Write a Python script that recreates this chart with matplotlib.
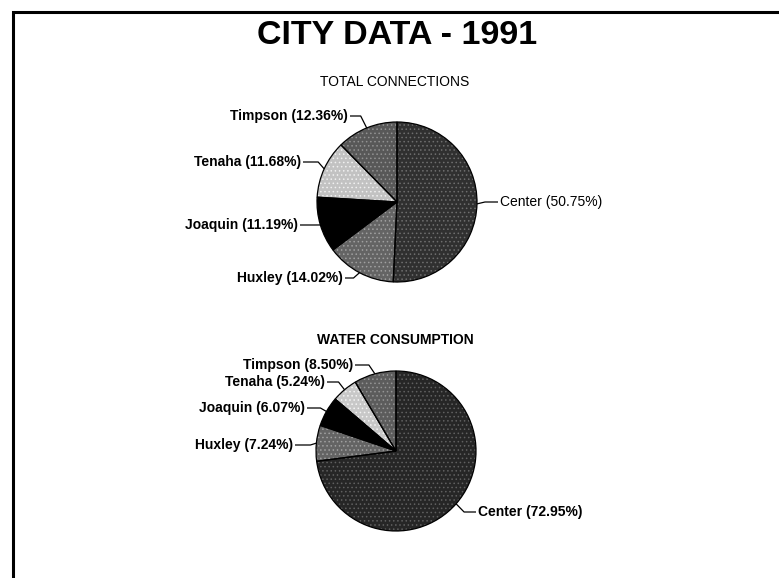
import numpy as np
import matplotlib
matplotlib.use("Agg")
import matplotlib.pyplot as plt

W, H = 779, 578

main_title = "CITY DATA - 1991"
cities = ["Center", "Huxley", "Joaquin", "Tenaha", "Timpson"]
conn_pct = [50.75, 14.02, 11.19, 11.68, 12.36]
water_pct = [72.95, 7.24, 6.07, 5.24, 8.50]
chart_titles = ["TOTAL CONNECTIONS", "WATER CONSUMPTION"]

plt.rcParams["font.family"] = ["Liberation Sans", "DejaVu Sans"]
plt.rcParams["hatch.linewidth"] = 0.6

fig = plt.figure(figsize=(W / 100, H / 100), dpi=100)
ax = fig.add_axes([0, 0, 1, 1])


def P(x, y):
    return x, H - y


charts = [
    dict(values=conn_pct, title=chart_titles[0], title_xy=(395, 82), title_weight="normal",
         center=(397, 202), r=80,
         colors=["#303030", "#646464", "#000000", "#c2c2c2", "#585858"],
         hatch_cols=["#6e6e6e", "#a0a0a0", "#000000", "#f0f0f0", "#929292"],
         label_xy=[(500, 202), (343, 278), (298, 225), (301, 162), (348, 116)],
         weights=["normal", "bold", "bold", "bold", "bold"]),
    dict(values=water_pct, title=chart_titles[1], title_xy=(395, 340), title_weight="bold",
         center=(396, 451), r=80,
         colors=["#262626", "#646464", "#000000", "#c8c8c8", "#5c5c5c"],
         hatch_cols=["#606060", "#a0a0a0", "#000000", "#f4f4f4", "#949494"],
         label_xy=[(478, 512), (293, 445), (305, 408), (325, 382), (353, 365)],
         weights=["bold", "bold", "bold", "bold", "bold"]),
]

lw_pt = 0.9
for ch in charts:
    vals = ch["values"]
    cx, cy = ch["center"]
    r = ch["r"]
    # filled, textured layer
    wedges, _ = ax.pie(vals, center=P(cx, cy), radius=r, startangle=90, counterclock=False,
                       colors=ch["colors"], frame=True)
    for w, hc in zip(wedges, ch["hatch_cols"]):
        w.set_edgecolor(hc)
        w.set_hatch("....")
        w.set_linewidth(0)
    # outline layer
    ax.pie(vals, center=P(cx, cy), radius=r, startangle=90, counterclock=False,
           colors=["none"] * len(vals), frame=True,
           wedgeprops=dict(edgecolor="black", linewidth=lw_pt, fill=False))

    total = float(sum(vals))
    cum = np.concatenate([[0], np.cumsum(vals)])
    for i, (name, v) in enumerate(zip(cities, vals)):
        mid = np.deg2rad(90 - 360 * (cum[i] + v / 2) / total)
        ex, ey = cx + r * np.cos(mid), cy - r * np.sin(mid)
        tx, ty = ch["label_xy"][i]
        right = tx > cx
        if right:
            elbow = (ex + 8, ty)
            start = (tx - 2, ty)
        else:
            elbow = (ex - 6, ty)
            start = (tx + 2, ty)
        xs = [ex, elbow[0], start[0]]
        ys = [ey, elbow[1], start[1]]
        ax.plot(xs, [H - y for y in ys], color="black", lw=lw_pt, solid_capstyle="butt")
        ax.text(*P(tx, ty), f"{name} ({v:.2f}%)", ha="left" if right else "right",
                va="center", fontsize=10, fontweight=ch["weights"][i], color="black")

    ax.text(*P(*ch["title_xy"]), ch["title"], ha="center", va="center", fontsize=10,
            fontweight=ch["title_weight"], color="black")

ax.text(*P(397, 36), main_title, ha="center", va="center", fontsize=24.5,
        fontweight="bold", color="black")

# page border (top and left)
ax.plot([13, 13, W], [0, H - 12, H - 12], color="black", lw=2.2,
        solid_joinstyle="miter", solid_capstyle="butt")

ax.set_xlim(0, W)
ax.set_ylim(0, H)
ax.set_aspect("auto")
ax.axis("off")

fig.savefig("out.png", dpi=100, facecolor="white")
